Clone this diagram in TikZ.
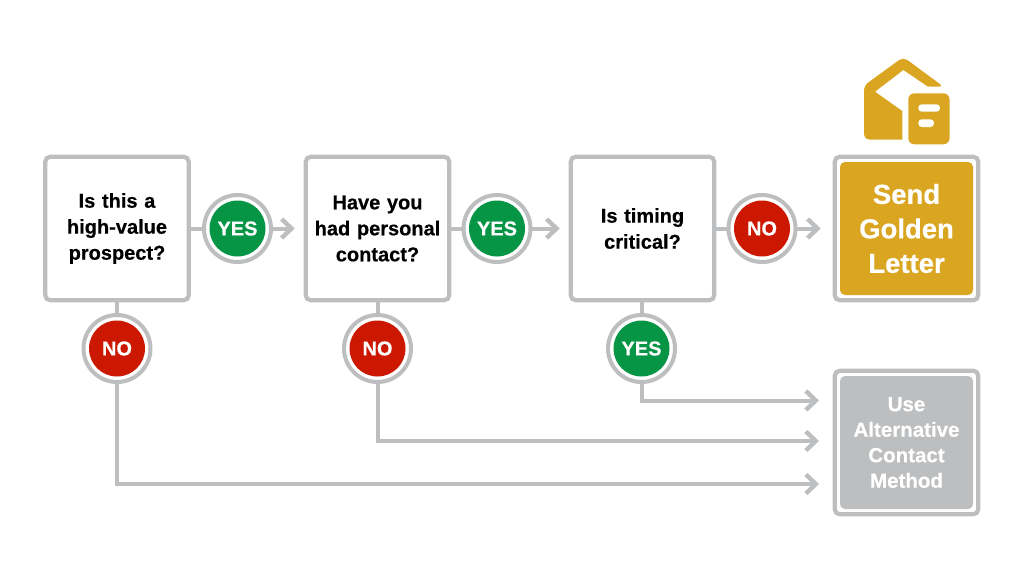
\documentclass[tikz,border=0pt]{standalone}
\usepackage{fontspec}
\setmainfont{Liberation Sans}[WordSpace=0.6,BoldFeatures={FakeBold=0.4}]
\usetikzlibrary{arrows.meta}
\definecolor{ringgray}{HTML}{BCBEC0}
\definecolor{yesgreen}{HTML}{069445}
\definecolor{nored}{HTML}{CC1800}
\definecolor{goldy}{HTML}{DAA622}
\tikzset{
  question/.style={draw=ringgray,line width=4.2pt,fill=white,rounded corners=5pt,outer sep=0pt,inner sep=0pt,
    minimum width=143.5pt,minimum height=143.5pt,align=center,text width=130pt,
    font=\fontsize{20}{26}\selectfont\bfseries},
  outcome/.style={question,text=white,path picture={\fill[#1] ([shift={(-66.5pt,-66.5pt)}]path picture bounding box.center) rectangle ([shift={(66.5pt,66.5pt)}]path picture bounding box.center);}},
  badge/.style={circle,draw=ringgray,line width=4pt,fill=white,outer sep=0pt,inner sep=0pt,minimum size=67pt,
    text=white,font=\fontsize{20}{24}\selectfont\bfseries,
    path picture={\fill[#1] (path picture bounding box.center) circle (28pt);}},
  link/.style={draw=ringgray,line width=4pt},
  linkarrow/.style={link,-{Straight Barb[length=10pt,width=19pt,line width=4.4pt]}},
}
\begin{document}
\begin{tikzpicture}[x=1pt,y=-1pt]
\useasboundingbox (0,0) rectangle (1024,576);
\node[question] (q1) at (117,228.5) {Is this a\\high-value\\prospect?};
\node[question] (q2) at (377.5,228.5) {Have you\\had personal\\contact?};
\node[question] (q3) at (642.5,228.5) {Is timing\\critical?};
\node[outcome=goldy,font=\fontsize{27.5}{34.5}\selectfont\bfseries] (gold) at (906.5,228.5) {Send\\Golden\\Letter};
\node[outcome=ringgray,font=\fontsize{20.5}{25.5}\selectfont\bfseries] (alt) at (906.5,442.5) {Use\\Alternative\\Contact\\Method};
\node[badge=yesgreen] (y1) at (237.5,228.5) {YES};
\node[badge=yesgreen] (y2) at (497,228.5) {YES};
\node[badge=nored] (n3) at (762,228.5) {NO};
\node[badge=nored] (n1) at (117,348.5) {NO};
\node[badge=nored] (n2) at (377.5,348.5) {NO};
\node[badge=yesgreen] (y3) at (641.5,348.5) {YES};
\coordinate (t3) at (819,400.5);
\coordinate (t2) at (819,441);
\coordinate (t1) at (819,484);
\draw[link] (q1) -- (y1);
\draw[link] (q2) -- (y2);
\draw[link] (q3) -- (n3);
\draw[link] (q1) -- (n1);
\draw[link] (q2) -- (n2);
\draw[link] (q3.south -| y3) -- (y3);
\draw[linkarrow,shorten >=11pt] (y1) -- (q2);
\draw[linkarrow,shorten >=11pt] (y2) -- (q3);
\draw[linkarrow,shorten >=14pt] (n3) -- (gold);
\draw[linkarrow] (n1) |- (t1);
\draw[linkarrow] (n2) |- (t2);
\draw[linkarrow] (y3) |- (t3);
% envelope icon
\fill[goldy,rounded corners=5pt] (864,85.5) -- (903.3,57) -- (943.5,86.7) [sharp corners] -- (928,86.7) -- (903.3,70) -- (875,91.7) -- (902.3,111) -- (902.3,139.5) [rounded corners=5pt] -- (864,139.5) -- cycle;
\fill[goldy,rounded corners=6pt] (908.3,93.3) rectangle (949.5,144.3);
\fill[white,rounded corners=3.5pt] (918.3,104.3) rectangle (940,111.7);
\fill[white,rounded corners=3.5pt] (918.3,119.3) rectangle (934,127);
\end{tikzpicture}
\end{document}
